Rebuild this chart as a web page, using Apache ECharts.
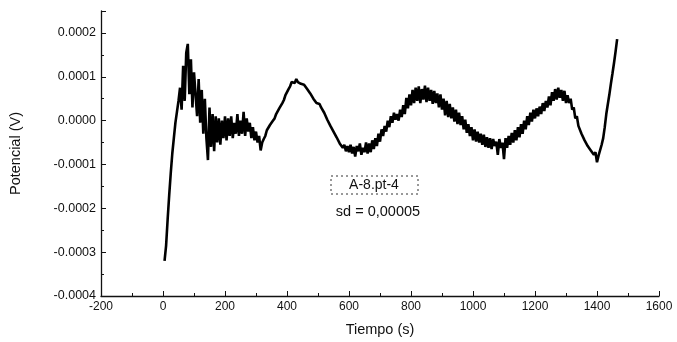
<!DOCTYPE html>
<html>
<head>
<meta charset="utf-8">
<script src="https://cdn.jsdelivr.net/npm/echarts@6/dist/echarts.min.js"></script>
<style>
  html, body { margin: 0; padding: 0; background: #fff; }
  #chart { width: 677px; height: 342px; }
</style>
</head>
<body>
<div id="chart"></div>
<script>
// Potential record, sampled every 5 s starting at t = 5 s (values in microvolts)
const PASO_S = 5;
const T_INICIO = 5;
const potencialMicroV = [
  // 5 - 50 s
  -320, -285, -225, -170, -120, -75, -40, -5, 20, 45,
  // 55 - 100 s
  75, 25, 125, 45, 155, 175, 60, 140, 30, 110,
  // 105 - 150 s
  110, 10, 95, -5, 70, -30, 50, -40, -90, 30,
  // 155 - 200 s
  -60, 15, -70, 10, -50, 5, -55, 0, -40, 10,
  // 205 - 250 s
  -45, 5, -35, 10, -40, -5, -30, 15, -35, 0,
  // 255 - 300 s
  -30, 20, -35, 5, -25, -5, -40, -15, -45, -25,
  // 305 - 350 s
  -50, -35, -68, -50, -42, -35, -22, -25, -10, -5,
  // 355 - 400 s
  0, 5, 15, 18, 28, 32, 40, 47, 58, 60,
  // 405 - 450 s
  72, 78, 88, 92, 86, 95, 88, 90, 84, 86,
  // 455 - 500 s
  82, 80, 72, 70, 62, 60, 50, 47, 40, 38,
  // 505 - 550 s
  38, 30, 28, 18, 15, 2, 0, -12, -15, -25,
  // 555 - 600 s
  -28, -38, -40, -52, -48, -62, -55, -70, -58, -72,
  // 605 - 650 s
  -55, -75, -60, -82, -58, -70, -52, -78, -62, -72,
  // 655 - 700 s
  -50, -75, -52, -72, -45, -65, -40, -58, -30, -48,
  // 705 - 750 s
  -20, -35, -12, -25, 0, -15, 10, -5, 18, 2,
  // 755 - 800 s
  15, 0, 25, 8, 35, 15, 52, 28, 60, 35,
  // 805 - 850 s
  70, 40, 75, 45, 78, 40, 72, 48, 80, 42,
  // 855 - 900 s
  75, 45, 70, 38, 68, 40, 62, 30, 60, 25,
  // 905 - 950 s
  50, 12, 45, 8, 38, 5, 30, -2, 25, -8,
  // 955 - 1000 s
  18, -10, 10, -20, 2, -28, -8, -35, -15, -45,
  // 1005 - 1050 s
  -20, -48, -25, -50, -30, -55, -32, -60, -38, -62,
  // 1055 - 1100 s
  -40, -65, -42, -58, -48, -78, -42, -62, -50, -88,
  // 1105 - 1150 s
  -40, -62, -35, -55, -28, -50, -22, -45, -15, -38,
  // 1155 - 1200 s
  -8, -30, 0, -20, 10, -10, 18, -2, 25, 5,
  // 1205 - 1250 s
  28, 10, 32, 15, 40, 22, 45, 30, 55, 35,
  // 1255 - 1300 s
  65, 45, 72, 48, 75, 52, 70, 45, 68, 40,
  // 1305 - 1350 s
  58, 40, 50, 25, 30, 5, 10, -12, -10, -30,
  // 1355 - 1400 s
  -32, -45, -42, -58, -55, -68, -65, -78, -72, -95,
  // 1405 - 1450 s
  -80, -78, -55, -40, -15, 15, 38, 60, 85, 108,
  // 1455 - 1465 s
  132, 158, 186
];

const xTicks = [-200, 0, 200, 400, 600, 800, 1000, 1200, 1400, 1600];
const yTicks = [-0.0004, -0.0003, -0.0002, -0.0001, 0.0000, 0.0001, 0.0002];

const etiquetaMuestra = 'A-8.pt-4';
const etiquetaSd = 'sd = 0,00005';

const serie = potencialMicroV.map((uv, i) => [T_INICIO + i * PASO_S, uv * 1e-6]);

const FUENTE = '"Liberation Sans", Arial, sans-serif';
const chart = echarts.init(document.getElementById('chart'), null, { renderer: 'canvas' });

chart.setOption({
  animation: false,
  backgroundColor: '#ffffff',
  grid: { left: 100, right: 18, top: 11, bottom: 45 },
  xAxis: {
    type: 'value',
    min: xTicks[0],
    max: xTicks[xTicks.length - 1],
    interval: 200,
    name: 'Tiempo (s)',
    nameLocation: 'middle',
    nameGap: 26,
    nameTextStyle: { fontFamily: FUENTE, fontSize: 14.5, color: '#111' },
    axisLine: { onZero: false, lineStyle: { color: '#111', width: 1.3 } },
    axisTick: { inside: true, length: 5, lineStyle: { color: '#111' } },
    minorTick: { show: true, splitNumber: 2, length: 3, lineStyle: { color: '#111' } },
    splitLine: { show: false },
    axisLabel: {
      fontFamily: FUENTE, fontSize: 12, color: '#111', margin: 5,
      formatter: v => String(v)
    }
  },
  yAxis: {
    type: 'value',
    min: yTicks[0],
    max: 0.00025,
    interval: 0.0001,
    name: 'Potencial (V)',
    nameLocation: 'middle',
    nameGap: 78,
    nameTextStyle: { fontFamily: FUENTE, fontSize: 14.5, color: '#111' },
    axisLine: { show: true, onZero: false, lineStyle: { color: '#111', width: 1.3 } },
    axisTick: { inside: true, length: 5, lineStyle: { color: '#111' } },
    minorTick: { show: true, splitNumber: 2, length: 3, lineStyle: { color: '#111' } },
    splitLine: { show: false },
    axisLabel: {
      fontFamily: FUENTE, fontSize: 12.5, color: '#111', margin: 5,
      showMaxLabel: false,
      formatter: v => v.toFixed(4)
    }
  },
  graphic: [
    {
      type: 'rect',
      shape: { x: 331, y: 176, width: 87, height: 18 },
      style: { fill: 'none', stroke: '#333', lineWidth: 1, lineDash: [2, 3] }
    },
    {
      type: 'text',
      x: 374, y: 185,
      style: {
        text: etiquetaMuestra, fontFamily: FUENTE, fontSize: 14, fill: '#111',
        align: 'center', verticalAlign: 'middle'
      }
    },
    {
      type: 'text',
      x: 378, y: 212,
      style: {
        text: etiquetaSd, fontFamily: FUENTE, fontSize: 14.5, fill: '#111',
        align: 'center', verticalAlign: 'middle'
      }
    }
  ],
  series: [{
    type: 'line',
    data: serie,
    showSymbol: false,
    symbol: 'none',
    lineStyle: { color: '#000', width: 2.6 },
    clip: true
  }]
});
</script>
</body>
</html>
